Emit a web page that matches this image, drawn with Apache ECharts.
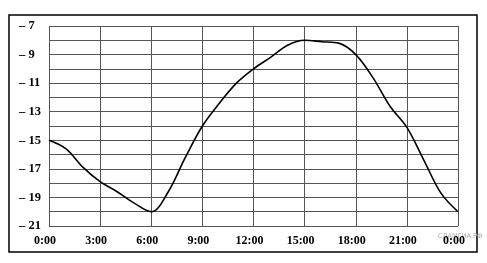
<!DOCTYPE html>
<html><head><meta charset="utf-8">
<script src="https://cdn.jsdelivr.net/npm/echarts@6/dist/echarts.min.js"></script>
<style>html,body{margin:0;padding:0;background:#fff}#c{width:487px;height:263px}</style>
</head><body><div id="c"></div>
<script>
const hours = [0,1,2,3,4,5,6,7,8,9,10,11,12,13,14,15,16,17,18,19,20,21,22,23,24];
const temps = [-15,-15.6,-16.9,-17.9,-18.6,-19.4,-20,-18.6,-16.2,-14,-12.4,-11,-10,-9.2,-8.35,-8,-8.1,-8.2,-9,-10.6,-12.6,-14.1,-16.4,-18.7,-20];
const yTicks = [-7,-9,-11,-13,-15,-17,-19,-21];
const xTickLabels = ['0:00','3:00','6:00','9:00','12:00','15:00','18:00','21:00','0:00'];
const watermark = 'СДАМГИА.РФ';

const chart = echarts.init(document.getElementById('c'));
const font = {fontFamily:'Liberation Serif', fontWeight:'bold', fontSize:12, color:'#000'};
chart.setOption({
  animation:false,
  grid:{left:49, top:26, right:29, bottom:37},
  xAxis:{type:'value', min:0, max:24, interval:3,
    axisLine:{show:false}, axisTick:{show:false},
    splitLine:{show:true, lineStyle:{color:'#555', width:1}},
    axisLabel:Object.assign({}, font, {margin:9, padding:[0,8,0,0],
      formatter:v => xTickLabels[Math.round(v/3)] })},
  yAxis:{type:'value', min:-21, max:-7, interval:1,
    axisLine:{show:false}, axisTick:{show:false},
    splitLine:{show:true, lineStyle:{color:'#555', width:1}},
    axisLabel:Object.assign({}, font, {align:'left', margin:30, fontSize:12.5,
      formatter:v => yTicks.indexOf(v) >= 0 ? '– ' + Math.abs(v) : ''})},
  series:[{type:'line', data:hours.map((h,i)=>[h,temps[i]]), smooth:0.35,
    showSymbol:false, lineStyle:{color:'#000', width:1.6}}],
  graphic:[
    {type:'rect', shape:{x:9, y:15, width:468, height:237}, style:{fill:'none', stroke:'#000', lineWidth:1.5}, z:-1},
    {type:'text', left:438, top:233, style:{text:watermark, fill:'#aaa', font:'6.5px DejaVu Sans'}}
  ]
});
</script></body></html>
